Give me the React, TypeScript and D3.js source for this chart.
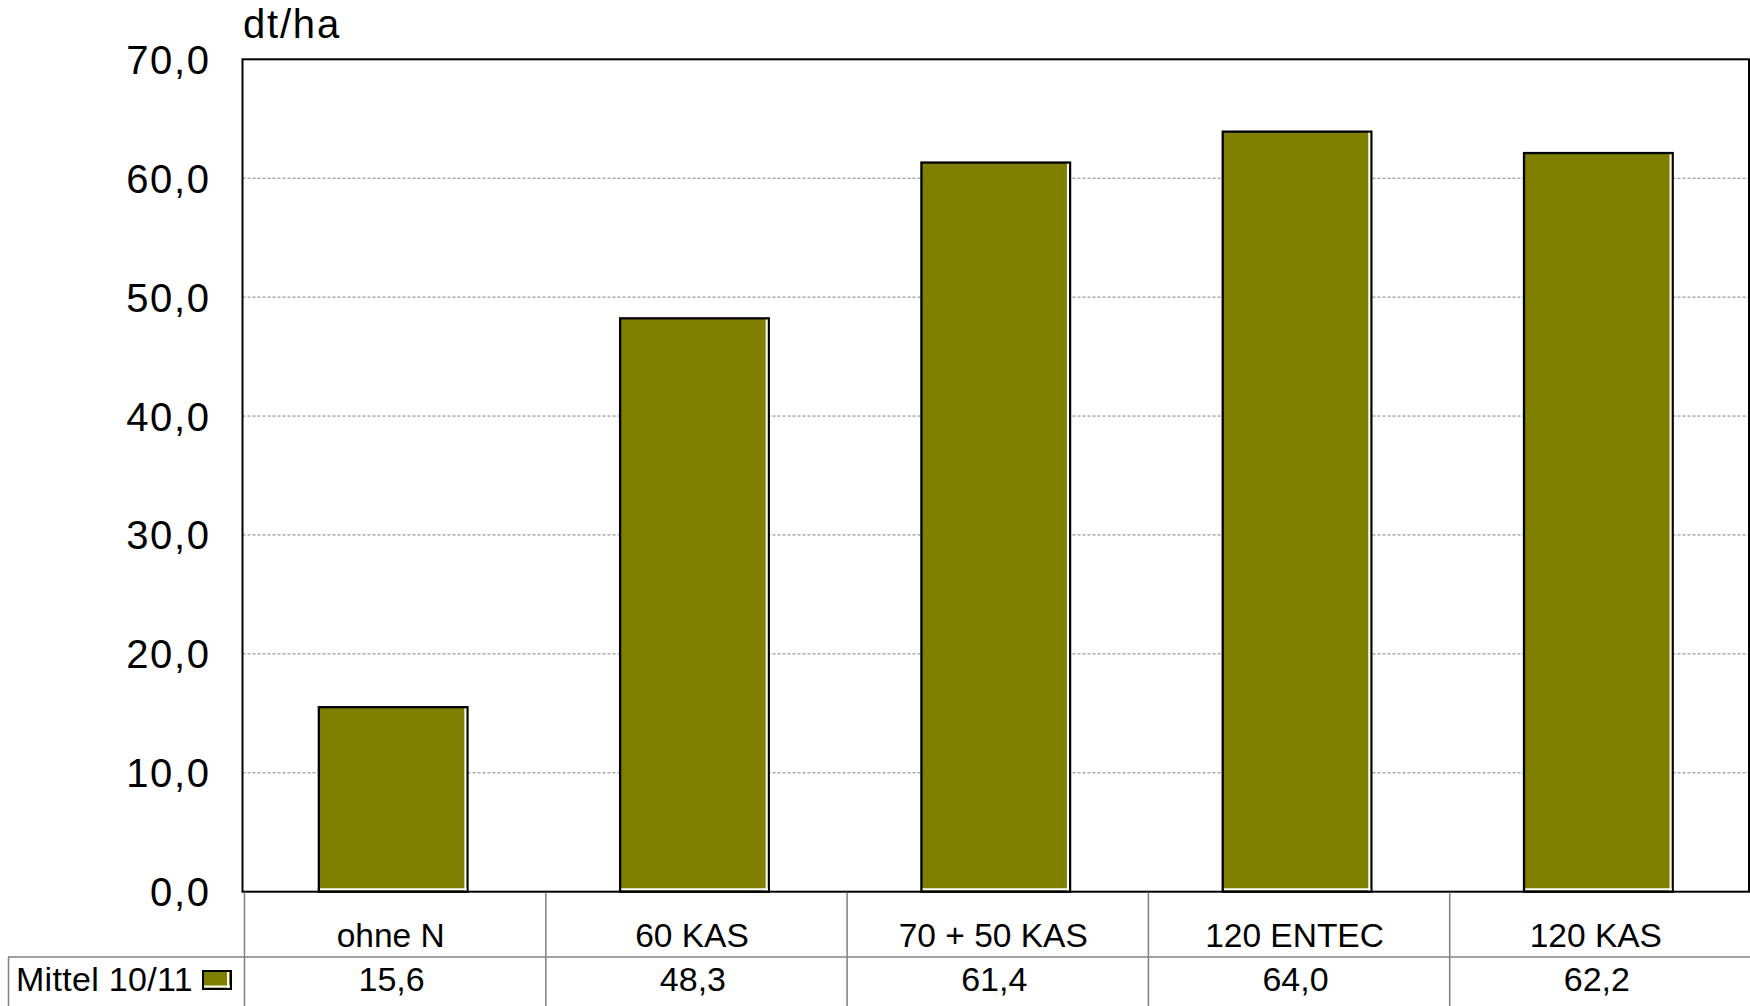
import React from "react";
import * as d3 from "d3";

const categories = ["ohne N", "60 KAS", "70 + 50 KAS", "120 ENTEC", "120 KAS"];
const values = [15.6, 48.3, 61.4, 64.0, 62.2];
const valueLabels = ["15,6", "48,3", "61,4", "64,0", "62,2"];
const yTicks = [0, 10, 20, 30, 40, 50, 60, 70];
const seriesName = "Mittel 10/11";
const unitLabel = "dt/ha";

const W = 1750;
const H = 1006;
const left = 242.5;
const right = 1749;
const top = 59.3;
const bottom = 891.7;
const olive = "#808000";
const font = "'Liberation Sans', Arial, sans-serif";

export default function App() {
  const x = d3.scaleBand<string>().domain(categories).range([left, right]).paddingInner(0.5).paddingOuter(0.25);
  const y = d3.scaleLinear().domain([0, 70]).range([bottom, top]);
  const step = x.step();
  const fmt = (v: number) => d3.format(".1f")(v).replace(".", ",");

  return (
    <svg width={W} height={H} style={{ position: "absolute", left: 0, top: 0, background: "#fff" }} fontFamily={font}>
      <rect x={0} y={0} width={W} height={H} fill="#fff" />
      {/* gridlines */}
      {yTicks.filter((t) => t > 0 && t < 70).map((t) => (
        <line key={"g" + t} x1={left} x2={right} y1={y(t)} y2={y(t)} stroke="#808080" strokeWidth={1} strokeDasharray="3 2" />
      ))}
      {/* bars */}
      {values.map((v, i) => {
        const bx = x(categories[i])!;
        const bw = x.bandwidth();
        const yt = y(v);
        return (
          <g key={"b" + i}>
            <rect x={bx + 1} y={yt + 1} width={bw - 2} height={bottom - yt - 1} fill={olive} stroke="#000" strokeWidth={2.3} />
            <line x1={bx + bw - 3.1} x2={bx + bw - 3.1} y1={yt + 2.2} y2={bottom - 1} stroke="#fff" strokeWidth={2} />
            <line x1={bx + 2.2} x2={bx + bw - 2} y1={bottom - 2.4} y2={bottom - 2.4} stroke="#fff" strokeWidth={2} />
          </g>
        );
      })}
      {/* frame */}
      <rect x={left} y={top} width={right - left} height={bottom - top} fill="none" stroke="#000" strokeWidth={2} />
      {/* y tick labels */}
      {yTicks.map((t) => (
        <text key={"t" + t} x={210.5} y={y(t) + 14.5} textAnchor="end" fontSize={40} letterSpacing={1.6} fill="#000">
          {fmt(t)}
        </text>
      ))}
      <text x={243} y={38} fontSize={40} letterSpacing={1.8} fill="#000">{unitLabel}</text>
      {/* data table */}
      {categories.map((c, i) => (
        <line key={"v" + i} x1={left + 2 + i * step} x2={left + 2 + i * step} y1={bottom + 1} y2={H} stroke="#808080" strokeWidth={1.5} />
      ))}
      <line x1={8} x2={W} y1={957} y2={957} stroke="#808080" strokeWidth={1.5} />
      <line x1={8.5} x2={8.5} y1={957} y2={H} stroke="#808080" strokeWidth={1.5} />
      {categories.map((c, i) => (
        <text key={"c" + i} x={x(c)! + x.bandwidth() / 2 - 2.5} y={947} textAnchor="middle" fontSize={33.5} fill="#000">
          {c}
        </text>
      ))}
      {valueLabels.map((s, i) => (
        <text key={"l" + i} x={x(categories[i])! + x.bandwidth() / 2 - 1.5} y={990.5} textAnchor="middle" fontSize={34} fill="#000">
          {s}
        </text>
      ))}
      <text x={16} y={990.5} fontSize={34} letterSpacing={0.3} fill="#000">{seriesName}</text>
      <g>
        <rect x={203} y={971} width={28} height={18} fill={olive} stroke="#000" strokeWidth={2} />
        <line x1={228} x2={228} y1={972} y2={988} stroke="#fff" strokeWidth={2} />
        <line x1={204} x2={230} y1={986.5} y2={986.5} stroke="#fff" strokeWidth={2} />
      </g>
    </svg>
  );
}
